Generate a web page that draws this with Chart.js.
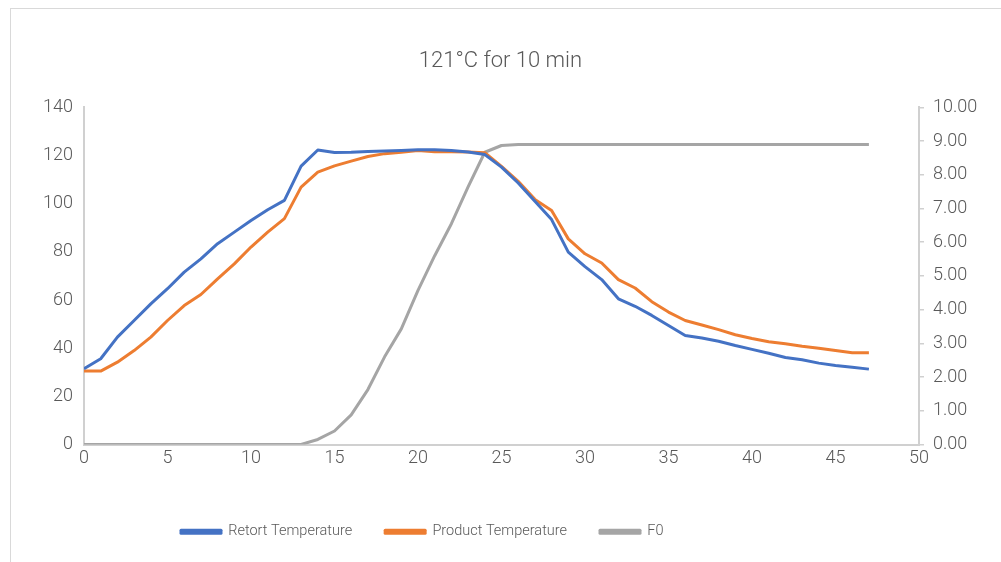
<!DOCTYPE html>
<html><head><meta charset="utf-8">
<style>
html,body{margin:0;padding:0;background:#fff;}
#wrap{position:relative;width:1001px;height:562px;overflow:hidden;}
#frame{position:absolute;left:10px;top:8px;width:1100px;height:700px;border-left:1px solid #d9d9d9;border-top:1px solid #d9d9d9;pointer-events:none;}
canvas{position:absolute;left:0;top:0;}
</style>
<script src="https://cdn.jsdelivr.net/npm/chart.js"></script>
</head><body>
<div id="wrap"><canvas id="c" width="1001" height="562"></canvas><div id="frame"></div></div>
<script>
const minutes = [0,1,2,3,4,5,6,7,8,9,10,11,12,13,14,15,16,17,18,19,20,21,22,23,24,25,26,27,28,29,30,31,32,33,34,35,36,37,38,39,40,41,42,43,44,45,46,47];
const retortTemp = [31.5,35.6,44.6,51.5,58.4,64.7,71.6,77.1,83.4,88.2,93,97.5,101.4,115.6,122.3,121.3,121.4,121.7,121.9,122.1,122.4,122.4,122.1,121.5,120.4,115.2,108.6,101,93.4,79.9,73.9,68.5,60.5,57.4,53.6,49.4,45.3,44.2,42.9,41.1,39.5,37.9,36.1,35.2,33.8,32.8,32.1,31.3];
const productTemp = [30.5,30.5,34.2,39,44.6,51.5,57.7,62.3,68.8,75,82,88.2,93.8,106.9,113.1,115.7,117.7,119.6,120.8,121.4,122.1,121.6,121.6,121.5,121.2,115.5,109.3,101.8,97.2,85.4,79.2,75.4,68.5,65,59.3,55,51.5,49.6,47.7,45.6,44,42.7,41.8,40.8,40,39,38.1,38.1];
const f0Values = [0,0,0,0,0,0,0,0,0,0,0,0,0,0,0.15,0.4,0.88,1.63,2.6,3.43,4.57,5.6,6.55,7.64,8.67,8.87,8.9,8.9,8.9,8.9,8.9,8.9,8.9,8.9,8.9,8.9,8.9,8.9,8.9,8.9,8.9,8.9,8.9,8.9,8.9,8.9,8.9,8.9];
const seriesNames = ['Retort Temperature','Product Temperature','F0'];
const chartTitle = '121°C for 10 min';

const AXIS = '#d0d0d0';
const TEXT = '#595959';
const COLORS = ['#4472C4','#ED7D31','#A5A5A5'];

function pts(arr){ return minutes.map((m,i)=>({x:m,y:arr[i]})); }

Chart.defaults.font.family = 'Roboto';
Chart.defaults.font.weight = '300';
Chart.defaults.color = TEXT;

const legendShift = {
  id:'legendShift',
  afterLayout(chart){
    const l = chart.legend;
    if(l){ l.left += 148; l.right += 148; l.top += 1; l.bottom += 1; }
  }
};

new Chart(document.getElementById('c'), {
  type:'line',
  data:{datasets:[
    {label:seriesNames[0], data:pts(retortTemp), borderColor:COLORS[0], backgroundColor:COLORS[0], yAxisID:'y'},
    {label:seriesNames[1], data:pts(productTemp), borderColor:COLORS[1], backgroundColor:COLORS[1], yAxisID:'y'},
    {label:seriesNames[2], data:pts(f0Values), borderColor:COLORS[2], backgroundColor:COLORS[2], yAxisID:'y1'}
  ]},
  options:{
    responsive:false, animation:false, devicePixelRatio:1,
    layout:{padding:{left:0,right:0,top:0,bottom:14}},
    elements:{point:{radius:0}, line:{borderWidth:3, tension:0, borderJoinStyle:'round', fill:false}},
    plugins:{
      title:{display:true, text:chartTitle, color:TEXT, font:{size:22, weight:'300'}, padding:{top:48,bottom:33}},
      legend:{position:'bottom', align:'start', labels:{boxWidth:40, boxHeight:3, padding:33, color:TEXT, font:{size:14.5, weight:'300'}}},
      tooltip:{enabled:false}
    },
    scales:{
      x:{type:'linear', min:0, max:50, ticks:{stepSize:5, padding:3, font:{size:18, weight:'300'}, color:TEXT},
         grid:{drawOnChartArea:false, drawTicks:false}, border:{color:AXIS, width:2},
         afterFit(s){ s.height = 46; }},
      y:{position:'left', min:0, max:140, ticks:{stepSize:20, padding:11, font:{size:18, weight:'300'}, color:TEXT},
         grid:{drawOnChartArea:false, drawTicks:false}, border:{color:AXIS, width:2},
         afterFit(s){ s.width = 84; }},
      y1:{position:'right', min:0, max:10, ticks:{stepSize:1, padding:9, font:{size:18, weight:'300'}, color:TEXT, callback:v=>Number(v).toFixed(2)},
         grid:{drawOnChartArea:false, drawTicks:true, tickLength:5, color:AXIS, lineWidth:1.5}, border:{color:AXIS, width:2},
         afterFit(s){ s.width = 82; }}
    }
  },
  plugins:[legendShift]
});
</script>
</body></html>
